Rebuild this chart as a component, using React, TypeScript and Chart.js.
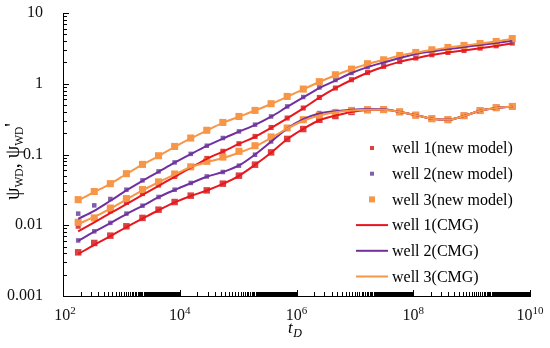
import React, { useEffect, useRef } from "react";
import { Chart, registerables } from "chart.js";
Chart.register(...registerables);

// ---------- DATA ----------
const tD = [
  182, 343, 647, 1220, 2299, 4335, 8174, 15410, 29050, 54770,
  1.033e5, 1.947e5, 3.671e5, 6.921e5, 1.305e6, 2.46e6, 4.638e6, 8.744e6,
  1.649e7, 3.109e7, 5.861e7, 1.105e8, 2.084e8, 3.928e8, 7.406e8, 1.396e9,
  2.633e9, 4.964e9,
];

const well1NewP = [0.0097, 0.0125, 0.016, 0.021, 0.028, 0.037, 0.049, 0.066, 0.088, 0.111, 0.142, 0.18, 0.241, 0.328, 0.454, 0.64, 0.87, 1.14, 1.44, 1.76, 2.06, 2.31, 2.57, 2.77, 2.95, 3.19, 3.44, 3.76];
const well1NewD = [0.00414, 0.00562, 0.00713, 0.00966, 0.0127, 0.0166, 0.0213, 0.0262, 0.0311, 0.0387, 0.0502, 0.0718, 0.107, 0.166, 0.229, 0.31, 0.35, 0.4, 0.425, 0.43, 0.4, 0.36, 0.32, 0.31, 0.353, 0.418, 0.458, 0.478];
const well2NewP = [0.0146, 0.0191, 0.0235, 0.0318, 0.0431, 0.0577, 0.0773, 0.102, 0.133, 0.171, 0.212, 0.264, 0.345, 0.478, 0.649, 0.887, 1.13, 1.42, 1.72, 2.0, 2.31, 2.63, 2.86, 3.09, 3.3, 3.52, 3.76, 4.05];
const well2NewD = [0.0061, 0.0082, 0.0108, 0.0146, 0.0189, 0.0251, 0.0318, 0.0396, 0.049, 0.0566, 0.0695, 0.0993, 0.153, 0.237, 0.317, 0.385, 0.41, 0.43, 0.44, 0.435, 0.4, 0.36, 0.32, 0.31, 0.353, 0.418, 0.458, 0.478];
const well3NewP = [0.023, 0.03, 0.0387, 0.0536, 0.0725, 0.096, 0.13, 0.171, 0.22, 0.284, 0.345, 0.42, 0.522, 0.662, 0.841, 1.07, 1.34, 1.61, 1.92, 2.18, 2.51, 2.77, 3.02, 3.26, 3.48, 3.71, 3.96, 4.35];
const well3NewD = [0.011, 0.0127, 0.0175, 0.0238, 0.0319, 0.041, 0.053, 0.067, 0.08, 0.092, 0.111, 0.133, 0.177, 0.237, 0.31, 0.36, 0.39, 0.42, 0.43, 0.43, 0.4, 0.36, 0.32, 0.31, 0.353, 0.418, 0.458, 0.478];

const well1CmgP = [0.0082, 0.011, 0.0148, 0.0199, 0.0268, 0.036, 0.0484, 0.065, 0.087, 0.11, 0.141, 0.178, 0.238, 0.325, 0.45, 0.635, 0.865, 1.13, 1.43, 1.74, 2.04, 2.29, 2.54, 2.76, 2.95, 3.17, 3.42, 3.74];
const well1CmgD = [0.0039, 0.0053, 0.007, 0.0094, 0.0124, 0.0163, 0.021, 0.0259, 0.031, 0.0385, 0.05, 0.0715, 0.106, 0.164, 0.23, 0.305, 0.355, 0.4, 0.425, 0.43, 0.4, 0.36, 0.32, 0.31, 0.35, 0.415, 0.455, 0.475];
const well2CmgP = [0.0123, 0.016, 0.0222, 0.0311, 0.0425, 0.057, 0.0765, 0.101, 0.132, 0.168, 0.21, 0.262, 0.342, 0.47, 0.64, 0.87, 1.11, 1.42, 1.72, 2.0, 2.31, 2.63, 2.86, 3.09, 3.3, 3.52, 3.76, 4.05];
const well2CmgD = [0.006, 0.0081, 0.0107, 0.0144, 0.0188, 0.0249, 0.0315, 0.0392, 0.0485, 0.0565, 0.07, 0.1, 0.152, 0.232, 0.315, 0.38, 0.41, 0.43, 0.44, 0.435, 0.4, 0.36, 0.32, 0.31, 0.35, 0.415, 0.455, 0.475];
const well3CmgP = [0.0225, 0.0295, 0.0385, 0.053, 0.072, 0.095, 0.128, 0.169, 0.218, 0.28, 0.342, 0.418, 0.518, 0.655, 0.835, 1.06, 1.32, 1.6, 1.9, 2.17, 2.48, 2.76, 3.0, 3.24, 3.46, 3.7, 3.95, 4.3];
const well3CmgD = [0.0104, 0.0131, 0.0172, 0.0232, 0.0312, 0.0405, 0.052, 0.0665, 0.078, 0.089, 0.106, 0.13, 0.172, 0.232, 0.3, 0.355, 0.395, 0.42, 0.43, 0.43, 0.4, 0.36, 0.32, 0.31, 0.35, 0.415, 0.455, 0.475];

const seriesNames = [
  "well 1(new model)", "well 2(new model)", "well 3(new model)",
  "well 1(CMG)", "well 2(CMG)", "well 3(CMG)",
];
const xTickValues = [1e2, 1e4, 1e6, 1e8, 1e10];
const xTickBase = "10";
const xTickExponents = ["2", "4", "6", "8", "10"];
const yTickValues = [0.001, 0.01, 0.1, 1, 10];
const yTickLabels = ["0.001", "0.01", "0.1", "1", "10"];

// ---------- STYLE ----------
const FONT = "'Liberation Serif', 'Times New Roman', serif";
const RED_LINE = "#E8161E";
const RED_MARK = "#DC4040";
const PUR_LINE = "#7030A0";
const PUR_MARK = "#8060A8";
const ORA_LINE = "#F79646";
const ORA_MARK = "#F79646";

const pts = (arr: number[]) => tD.map((t, i) => ({ x: t, y: arr[i] }));

function markerDs(label: string, arr: number[], color: string, r: number, order: number, legendSize?: number) {
  return {
    label,
    data: pts(arr),
    showLine: false,
    pointStyle: "rect",
    pointRadius: r,
    pointBackgroundColor: color,
    pointBorderColor: color,
    pointBorderWidth: 0,
    borderColor: color,
    backgroundColor: color,
    order,
    legendSize,
  } as any;
}
function lineDs(label: string, arr: number[], color: string, order: number, inLegend: boolean) {
  return {
    label,
    data: pts(arr),
    showLine: true,
    pointRadius: 0,
    borderColor: color,
    backgroundColor: color,
    borderWidth: 2,
    cubicInterpolationMode: "monotone",
    order,
    legendLine: inLegend,
  } as any;
}

const decorPlugin = {
  id: "decor",
  afterDraw(chart: any) {
    const { ctx, chartArea, scales } = chart;
    const xs = scales.x, ys = scales.y;
    ctx.save();
    ctx.strokeStyle = "#000";
    ctx.lineWidth = 1;
    ctx.beginPath();
    // x minor ticks (inward)
    for (let e = 2; e < 10; e += 2) {
      const base = Math.pow(10, e);
      for (let k = 1; k <= 100; k++) {
        const px = Math.round(xs.getPixelForValue(k * base)) + 0.5;
        const len = k === 1 || k === 100 ? 6 : 4;
        ctx.moveTo(px, chartArea.bottom);
        ctx.lineTo(px, chartArea.bottom - len);
      }
    }
    // y ticks (inward)
    for (let e = -3; e <= 1; e++) {
      for (let k = 1; k <= 9; k++) {
        if (e === 1 && k > 1) break;
        const py = Math.round(ys.getPixelForValue(k * Math.pow(10, e))) + 0.5;
        const len = k === 1 ? 6 : 4;
        ctx.moveTo(chartArea.left, py);
        ctx.lineTo(chartArea.left + len, py);
      }
    }
    ctx.stroke();

    // x tick labels 10^n
    ctx.fillStyle = "#111";
    ctx.textBaseline = "alphabetic";
    ctx.textAlign = "left";
    xTickValues.forEach((v, i) => {
      const px = xs.getPixelForValue(v);
      ctx.font = `16px ${FONT}`;
      const bw = ctx.measureText(xTickBase).width;
      ctx.font = `11px ${FONT}`;
      const ew = ctx.measureText(xTickExponents[i]).width;
      const x0 = px - (bw + ew) / 2 + (i === 0 ? 2 : 0);
      ctx.font = `16px ${FONT}`;
      ctx.fillText(xTickBase, x0, 320);
      ctx.font = `11px ${FONT}`;
      ctx.fillText(xTickExponents[i], x0 + bw, 314);
    });

    // legend
    const items = chart.data.datasets.filter((d: any) => d.legendSize || d.legendLine);
    const sorted = seriesNames.map((n) => items.find((d: any) => d.label === n)).filter(Boolean);
    ctx.font = `16px ${FONT}`;
    ctx.textBaseline = "middle";
    ctx.textAlign = "left";
    sorted.forEach((d: any, i: number) => {
      const cy = 148 + i * 25.7;
      if (d.legendSize) {
        const s = d.legendSize;
        ctx.fillStyle = d.pointBackgroundColor;
        ctx.fillRect(372 - s / 2, cy - s / 2, s, s);
      } else {
        ctx.strokeStyle = d.borderColor;
        ctx.lineWidth = 2;
        ctx.beginPath();
        ctx.moveTo(356, cy);
        ctx.lineTo(388, cy);
        ctx.stroke();
      }
      ctx.fillStyle = "#000";
      ctx.fillText(d.label, 392, cy + 1);
    });

    // x title: t_D
    ctx.fillStyle = "#000";
    ctx.textBaseline = "alphabetic";
    ctx.font = `italic 17px ${FONT}`;
    ctx.fillText("t", 288, 333);
    const tw = ctx.measureText("t").width;
    ctx.font = `italic 12px ${FONT}`;
    ctx.fillText("D", 288 + tw + 0.5, 337);

    // y title: ψWD, ψWD'
    ctx.translate(19, 200);
    ctx.rotate(-Math.PI / 2);
    let xo = 0;
    const big = `20px ${FONT}`;
    const small = `11.5px ${FONT}`;
    const parts: [string, boolean][] = [["ψ", false], ["WD", true], [", ", false], ["ψ", false], ["WD", true], ["'", false]];
    parts.forEach(([s, sub]) => {
      ctx.font = sub ? small : big;
      ctx.fillText(s, xo, sub ? 4 : 0);
      xo += ctx.measureText(s).width;
    });
    ctx.restore();
  },
};

export default function App() {
  const ref = useRef<HTMLCanvasElement>(null);
  useEffect(() => {
    document.body.style.margin = "0";
    Chart.defaults.font.family = FONT;
    const chart = new Chart(ref.current!, {
      type: "line",
      data: {
        datasets: [
          lineDs(seriesNames[5], well3CmgP, ORA_LINE, 0, true),
          lineDs(seriesNames[5] + " d", well3CmgD, ORA_LINE, 0, false),
          lineDs(seriesNames[4], well2CmgP, PUR_LINE, 1, true),
          lineDs(seriesNames[4] + " d", well2CmgD, PUR_LINE, 1, false),
          lineDs(seriesNames[3], well1CmgP, RED_LINE, 2, true),
          lineDs(seriesNames[3] + " d", well1CmgD, RED_LINE, 2, false),
          markerDs(seriesNames[2], well3NewP, ORA_MARK, 5, 3, 6),
          markerDs(seriesNames[2] + " d", well3NewD, ORA_MARK, 5, 3),
          markerDs(seriesNames[1], well2NewP, PUR_MARK, 3.2, 4, 4),
          markerDs(seriesNames[1] + " d", well2NewD, PUR_MARK, 3.2, 4),
          markerDs(seriesNames[0], well1NewP, RED_MARK, 3.6, 5, 4),
          markerDs(seriesNames[0] + " d", well1NewD, RED_MARK, 4.6, 5),
        ],
      },
      options: {
        animation: false,
        responsive: true,
        maintainAspectRatio: false,
        events: [],
        layout: { padding: { top: 13, right: 20, left: 0, bottom: 0 } },
        plugins: { legend: { display: false }, tooltip: { enabled: false } },
        scales: {
          x: {
            type: "logarithmic",
            min: 1e2,
            max: 1e10,
            grid: { display: false, drawTicks: false },
            border: { display: true, color: "#000", width: 1 },
            afterBuildTicks: (s: any) => {
              s.ticks = xTickValues.map((v) => ({ value: v }));
            },
            afterFit: (s: any) => {
              s.height = 52;
              s.paddingLeft = 0;
              s.paddingRight = 0;
            },
            ticks: { display: false },
          },
          y: {
            type: "logarithmic",
            min: 0.001,
            max: 10,
            grid: { display: false, drawTicks: false },
            border: { display: true, color: "#000", width: 1 },
            afterBuildTicks: (s: any) => {
              s.ticks = yTickValues.map((v) => ({ value: v }));
            },
            afterFit: (s: any) => {
              s.width = 63;
              s.paddingTop = 0;
              s.paddingBottom = 0;
            },
            ticks: {
              autoSkip: false,
              padding: 20,
              color: "#111",
              font: { size: 16, family: FONT },
              callback: (v: any) => {
                const i = yTickValues.findIndex((t) => Math.abs(Math.log10(t) - Math.log10(v)) < 1e-6);
                return i >= 0 ? yTickLabels[i] : "";
              },
            },
          },
        },
      },
      plugins: [decorPlugin],
    });
    return () => chart.destroy();
  }, []);
  return (
    <div style={{ position: "relative", width: 550, height: 348 }}>
      <canvas ref={ref} />
    </div>
  );
}
